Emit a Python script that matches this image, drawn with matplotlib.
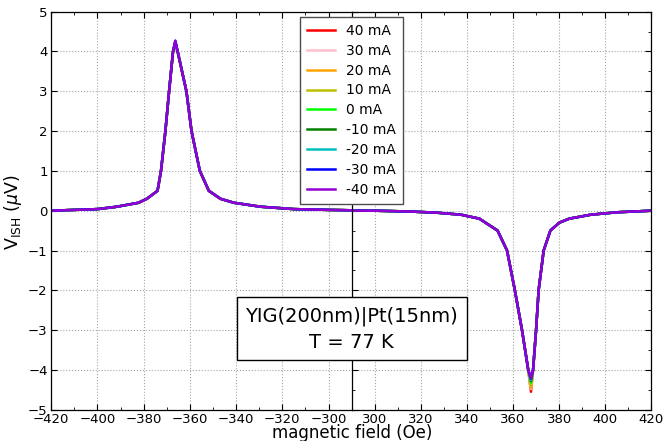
import matplotlib.pyplot as plt
from matplotlib.ticker import MultipleLocator
import numpy as np

# currents and their line colours
labels = ['40 mA', '30 mA', '20 mA', '10 mA', '0 mA', '-10 mA', '-20 mA', '-30 mA', '-40 mA']
colors = ['red', 'pink', 'orange', (0.75, 0.75, 0), 'lime', 'green', (0, 0.75, 0.75), 'blue', 'darkviolet']

# negative field sweep (peak)
x_left = [-420, -410, -400, -391.6, -382.2, -378.6, -374, -372.5, -370.6, -369, -367.3,
          -366.3, -365.3, -363.4, -361.5, -359.3, -355.7, -351.8, -346.8, -341, -329.4,
          -315, -300, -290]
y_left = [0.0, 0.02, 0.04, 0.1, 0.2, 0.3, 0.5, 1.0, 2.0, 3.0, 4.0,
          4.27, 4.0, 3.5, 3.0, 2.0, 1.0, 0.5, 0.3, 0.2, 0.1,
          0.04, 0.02, 0.01]
peak_left = [4.12, 4.18, 4.2, 4.2, 4.22, 4.24, 4.25, 4.27, 4.27]

# positive field sweep (dip)
x_right = [290, 300, 315, 327, 337.4, 345.4, 353.3, 357.4, 360.8, 363.9, 366.6,
           367.8, 368.7, 370.0, 371.1, 373.3, 376.2, 380.1, 384.4, 393.8, 405, 420]
y_right = [0.0, 0.0, -0.02, -0.05, -0.1, -0.2, -0.5, -1.0, -2.0, -3.0, -4.0,
           -4.3, -4.0, -3.0, -2.0, -1.0, -0.5, -0.3, -0.2, -0.1, -0.04, 0.0]
dip_right = [-4.55, -4.48, -4.45, -4.4, -4.32, -4.28, -4.25, -4.22, -4.2]

W, H = 666, 441
fig = plt.figure(figsize=(W / 100, H / 100), dpi=100)
bottom = (H - 409.7) / H
height = (409.7 - 11.7) / H
ax1 = fig.add_axes([51.2 / W, bottom, 300.5 / W, height])
ax2 = fig.add_axes([351.7 / W, bottom, 299.6 / W, height])

i_peak = y_left.index(max(y_left))
i_dip = y_right.index(min(y_right))
lines = []
for lab, col, pk, dp in zip(labels, colors, peak_left, dip_right):
    yl = list(y_left)
    yl[i_peak] = pk
    yr = list(y_right)
    yr[i_dip] = dp
    ln, = ax1.plot(x_left, yl, color=col, lw=1.8, label=lab)
    ax2.plot(x_right, yr, color=col, lw=1.8)
    lines.append(ln)

ax1.set_xlim(-420, -290)
ax2.set_xlim(290, 420)
for ax in (ax1, ax2):
    ax.set_ylim(-5, 5)
    ax.xaxis.set_major_locator(MultipleLocator(20))
    ax.xaxis.set_minor_locator(MultipleLocator(10))
    ax.yaxis.set_major_locator(MultipleLocator(1))
    ax.grid(True, color='0.65', linestyle=':', lw=0.8)
    ax.tick_params(which='both', direction='in', top=True, labelsize=9.5, pad=2.5)
    ax.tick_params(which='major', length=4)
    ax.tick_params(which='minor', length=2)
    for s in ax.spines.values():
        s.set_linewidth(0.9)

ax1.set_xticks([-420, -400, -380, -360, -340, -320, -300])
ax2.set_xticks([300, 320, 340, 360, 380, 400, 420])
ax1.spines['right'].set_visible(False)
ax1.tick_params(axis='y', right=False)
ax2.yaxis.set_minor_locator(MultipleLocator(0.5))
ax2.tick_params(axis='y', which='both', left=True, right=True, labelleft=False)

fig.text(13 / W, 1 - 212 / H, r'V$_{\mathrm{ISH}}$ ($\mu$V)', rotation=90,
         ha='center', va='center', fontsize=12.5)
fig.text(351.7 / W, 1 - 433.5 / H, 'magnetic field (Oe)', ha='center', va='center', fontsize=12)

fig.legend(lines, labels, loc='upper center', bbox_to_anchor=(351.7 / W, 1 - 17 / H),
           fontsize=10, fancybox=False, edgecolor='0.3', framealpha=1,
           labelspacing=0.42, handlelength=2.0, borderpad=0.5, borderaxespad=0)

fig.text(351.7 / W, 1 - 329 / H, 'YIG(200nm)|Pt(15nm)\nT = 77 K', ha='center', va='center',
         fontsize=14, linespacing=1.45,
         bbox=dict(boxstyle='square,pad=0.45', facecolor='white', edgecolor='black', lw=1))

fig.savefig('out.png', dpi=100)
